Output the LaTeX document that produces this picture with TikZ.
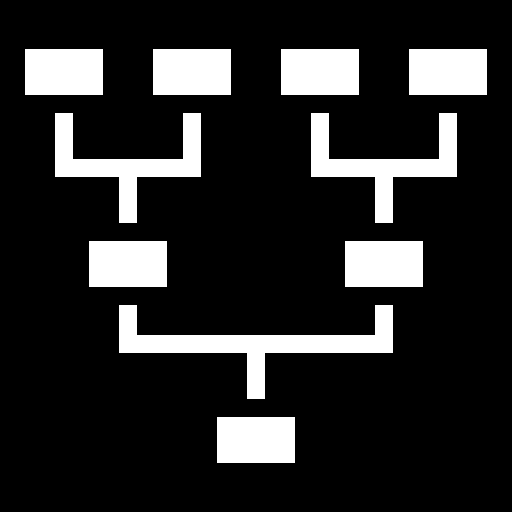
\documentclass[tikz,border=0pt]{standalone}
\begin{document}
\begin{tikzpicture}[x=1pt,y=-1pt,
  box/.style={fill=white,draw=none,inner sep=0pt,minimum width=78pt,minimum height=46pt},
  conn/.style={draw=white,line width=18pt,line join=miter,line cap=butt}]
\fill[black] (0,0) rectangle (512,512);
\useasboundingbox (0,0) rectangle (512,512);
\node[box] (t1) at (64,72) {};
\node[box] (t2) at (192,72) {};
\node[box] (t3) at (320,72) {};
\node[box] (t4) at (448,72) {};
\node[box] (m1) at (128,264) {};
\node[box] (m2) at (384,264) {};
\node[box] (b) at (256,440) {};
\coordinate (j1) at (128,168);
\coordinate (j2) at (384,168);
\coordinate (j3) at (256,344);
\draw[conn] ([yshift=-18pt]t1.south) |- (j1) -| ([yshift=-18pt]t2.south);
\draw[conn] (j1) -- ([yshift=18pt]m1.north);
\draw[conn] ([yshift=-18pt]t3.south) |- (j2) -| ([yshift=-18pt]t4.south);
\draw[conn] (j2) -- ([yshift=18pt]m2.north);
\draw[conn] ([yshift=-18pt]m1.south) |- (j3) -| ([yshift=-18pt]m2.south);
\draw[conn] (j3) -- ([yshift=18pt]b.north);
\end{tikzpicture}
\end{document}
